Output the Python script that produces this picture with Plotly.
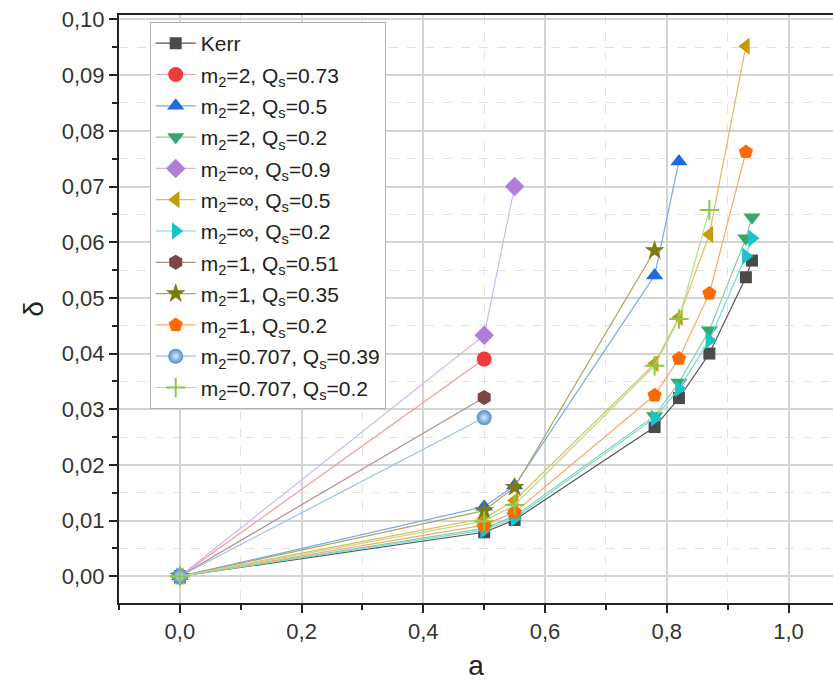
import plotly.graph_objects as go

names = ["Kerr",
         "m<sub>2</sub>=2, Q<sub>s</sub>=0.73",
         "m<sub>2</sub>=2, Q<sub>s</sub>=0.5",
         "m<sub>2</sub>=2, Q<sub>s</sub>=0.2",
         "m<sub>2</sub>=∞, Q<sub>s</sub>=0.9",
         "m<sub>2</sub>=∞, Q<sub>s</sub>=0.5",
         "m<sub>2</sub>=∞, Q<sub>s</sub>=0.2",
         "m<sub>2</sub>=1, Q<sub>s</sub>=0.51",
         "m<sub>2</sub>=1, Q<sub>s</sub>=0.35",
         "m<sub>2</sub>=1, Q<sub>s</sub>=0.2",
         "m<sub>2</sub>=0.707, Q<sub>s</sub>=0.39",
         "m<sub>2</sub>=0.707, Q<sub>s</sub>=0.2"]

a_kerr = [0, 0.5, 0.55, 0.78, 0.82, 0.87, 0.93, 0.94]
d_kerr = [0, 0.0079, 0.0101, 0.0268, 0.032, 0.040, 0.0537, 0.0567]
a_m2_073 = [0, 0.5]
d_m2_073 = [0, 0.039]
a_m2_05 = [0, 0.5, 0.55, 0.78, 0.82]
d_m2_05 = [0, 0.0125, 0.0163, 0.054, 0.0745]
a_m2_02 = [0, 0.5, 0.55, 0.78, 0.82, 0.87, 0.93, 0.94]
d_m2_02 = [0, 0.0086, 0.0108, 0.0288, 0.0348, 0.0442, 0.0607, 0.0645]
a_inf_09 = [0, 0.5, 0.55]
d_inf_09 = [0, 0.0433, 0.070]
a_inf_05 = [0, 0.5, 0.55, 0.78, 0.82, 0.87, 0.93]
d_inf_05 = [0, 0.0104, 0.0136, 0.0382, 0.0465, 0.0614, 0.0952]
a_inf_02 = [0, 0.5, 0.55, 0.78, 0.82, 0.87, 0.93, 0.94]
d_inf_02 = [0, 0.0083, 0.0104, 0.0284, 0.0337, 0.0424, 0.0575, 0.0607]
a_m1_051 = [0, 0.5]
d_m1_051 = [0, 0.0321]
a_m1_035 = [0, 0.5, 0.55, 0.78]
d_m1_035 = [0, 0.0118, 0.016, 0.0585]
a_m1_02 = [0, 0.5, 0.55, 0.78, 0.82, 0.87, 0.93]
d_m1_02 = [0, 0.0092, 0.0115, 0.0325, 0.0391, 0.0508, 0.0762]
a_m707_039 = [0, 0.5]
d_m707_039 = [0, 0.0285]
a_m707_02 = [0, 0.5, 0.55, 0.78, 0.82, 0.87]
d_m707_02 = [0, 0.0099, 0.0128, 0.0378, 0.0462, 0.0658]

xs = [a_kerr, a_m2_073, a_m2_05, a_m2_02, a_inf_09, a_inf_05, a_inf_02,
      a_m1_051, a_m1_035, a_m1_02, a_m707_039, a_m707_02]
ys = [d_kerr, d_m2_073, d_m2_05, d_m2_02, d_inf_09, d_inf_05, d_inf_02,
      d_m1_051, d_m1_035, d_m1_02, d_m707_039, d_m707_02]

colors = ["#4a4a4a", "#ee3b3b", "#1f68e0", "#35a86a", "#b07ed8", "#c99a08",
          "#18c4c8", "#7a4646", "#7d7a0e", "#ff6a00", "#4f8ccc", "#8cc84b"]
line_colors = ["#555555", "#f49a9a", "#79a6ee", "#86cfa5", "#d2b6ee", "#ddbe5e",
               "#70dcde", "#b08e8e", "#aaa860", "#ffa66a", "#9ec0e6", "#b6dd8e"]
symbols = ["square", "circle", "triangle-up", "triangle-down", "diamond",
           "triangle-left", "triangle-right", "hexagon", "star", "pentagon",
           "circle", "cross-thin"]
sizes = [12, 15, 15, 15, 15, 15, 15, 15, 15, 15, 15, 14]

fig = go.Figure()
for i in range(len(names)):
    marker = dict(symbol=symbols[i], size=sizes[i], color=colors[i],
                  line=dict(width=0))
    if i == 10:
        marker["gradient"] = dict(type="radial", color="#dfeaf6")
    if symbols[i] == "cross-thin":
        marker["line"] = dict(width=2, color=colors[i])
    fig.add_trace(go.Scatter(
        x=xs[i], y=ys[i], name=names[i], mode="lines+markers",
        line=dict(color=line_colors[i], width=1.2),
        marker=marker, legendgroup="g%d" % i))

fig.update_layout(
    width=833, height=687,
    margin=dict(l=119, r=0, t=15, b=84),
    paper_bgcolor="white", plot_bgcolor="white",
    separators=", ",
    font=dict(family="Liberation Sans, Arial, sans-serif", color="#222"),
    showlegend=True,
    legend=dict(x=0.043, y=0.988, xanchor="left", yanchor="top",
                bgcolor="white", bordercolor="#b0b0b0", borderwidth=1,
                font=dict(size=21, color="#222"), tracegroupgap=1,
                itemwidth=40),
)
fig.update_xaxes(
    range=[-0.1, 1.0731], tickvals=[0, 0.2, 0.4, 0.6, 0.8, 1.0], tickformat=".1f",
    showline=True, linecolor="#222", linewidth=2, mirror=True,
    ticks="outside", ticklen=8, tickwidth=2, tickcolor="#222",
    tickfont=dict(size=22, color="#333"),
    showgrid=True, gridcolor="#d4d4d4", gridwidth=1.5, zeroline=False,
    minor=dict(tickvals=[-0.1, 0.1, 0.3, 0.5, 0.7, 0.9], ticks="outside", ticklen=5,
               tickwidth=1.5, tickcolor="#222", showgrid=True,
               gridcolor="#e2e2e2", griddash="dash", gridwidth=1),
    title=dict(text="a", font=dict(size=28, color="#222"), standoff=12),
)
fig.update_yaxes(
    range=[-0.0048, 0.1008], tickvals=[i / 100 for i in range(11)], tickformat=".2f",
    showline=True, linecolor="#222", linewidth=2, mirror=False,
    ticks="outside", ticklen=8, tickwidth=2, tickcolor="#222",
    tickfont=dict(size=22, color="#333"),
    showgrid=True, gridcolor="#d4d4d4", gridwidth=1.5, zeroline=False,
    minor=dict(tickvals=[0.005 + i / 100 for i in range(10)], ticks="outside", ticklen=5,
               tickwidth=1.5, tickcolor="#222", showgrid=True,
               gridcolor="#e2e2e2", griddash="dash", gridwidth=1),
    title=dict(text="δ", font=dict(size=28, color="#222"), standoff=10),
)

fig.write_html("out.html")
